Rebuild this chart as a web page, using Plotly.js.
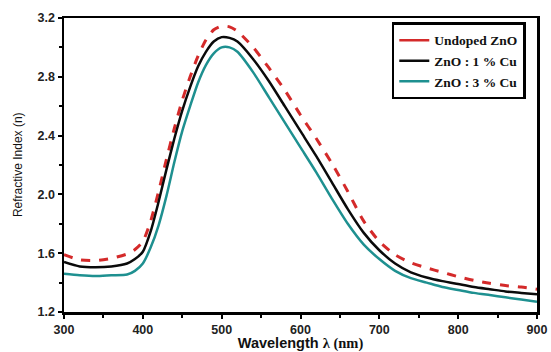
<!DOCTYPE html>
<html><head><meta charset="utf-8">
<script src="https://cdn.plot.ly/plotly-3.0.1.min.js"></script>
<style>html,body{margin:0;padding:0;background:#fff;}#c{width:551px;height:352px;}</style>
</head><body><div id="c"></div>
<script>
const wavelength = [300,320,340,360,380,390,400,410,420,430,440,450,460,470,480,490,500,510,520,540,560,580,600,620,640,660,680,700,720,740,760,780,800,820,840,860,880,900];
const undoped = [1.59,1.555,1.55,1.565,1.595,1.625,1.68,1.82,2.02,2.24,2.45,2.64,2.80,2.94,3.05,3.12,3.145,3.14,3.11,3.00,2.86,2.71,2.54,2.38,2.21,2.02,1.82,1.68,1.59,1.535,1.50,1.47,1.44,1.415,1.395,1.38,1.37,1.355];
const cu1 = [1.54,1.51,1.505,1.51,1.53,1.56,1.61,1.75,1.95,2.17,2.38,2.57,2.73,2.87,2.97,3.04,3.07,3.065,3.04,2.92,2.77,2.60,2.43,2.26,2.08,1.90,1.74,1.62,1.53,1.47,1.435,1.41,1.39,1.37,1.355,1.34,1.33,1.32];
const cu3 = [1.46,1.45,1.445,1.45,1.455,1.48,1.53,1.64,1.79,1.99,2.22,2.43,2.60,2.76,2.88,2.96,3.00,3.00,2.97,2.83,2.66,2.49,2.32,2.15,1.97,1.80,1.66,1.56,1.48,1.43,1.40,1.37,1.35,1.33,1.315,1.30,1.285,1.27];
const names = ['Undoped ZnO','ZnO : 1 % Cu','ZnO : 3 % Cu'];
const colors = ['#d42a2a','#0a0a0a','#1e9090'];
const series = [undoped, cu1, cu3];

const traces = [];
series.forEach((s,i)=>{
  traces.push({x: wavelength, y: s, mode:'lines', line:{color:colors[i], width: i===0?3:2.5, dash: i===0?'dash':'solid', shape:'spline', smoothing:0.7}, showlegend:false, hoverinfo:'skip'});
});
names.forEach((n,i)=>{
  traces.push({x:[null], y:[null], mode:'lines', name:n, line:{color:colors[i], width:2.5}, showlegend:true});
});

const layout = {
  width:551, height:352,
  margin:{l:64, r:14, t:18, b:40},
  paper_bgcolor:'#fff', plot_bgcolor:'#fff',
  showlegend:true,
  legend:{x:0.693, y:0.985, xanchor:'left', yanchor:'top', bgcolor:'#fff', bordercolor:'#000', borderwidth:2.5,
    font:{family:'Liberation Serif, Times New Roman, serif', size:13.5, color:'#111', weight:'bold'},
    tracegroupgap:0, itemwidth:30},
  xaxis:{range:[300,900], tickvals:[300,400,500,600,700,800,900], ticks:'outside', ticklen:4, tickwidth:2, tickcolor:'#000',
    minor:{dtick:50, ticks:'outside', ticklen:3, tickwidth:2, tickcolor:'#000'},
    showline:true, linecolor:'#000', linewidth:2.5, mirror:true, showgrid:false, zeroline:false,
    tickfont:{family:'Liberation Sans, Arial, sans-serif', size:12.5, color:'#222', weight:'bold'},
    title:{text:'Wavelength <span style="font-family:Liberation Serif, Times New Roman, serif">λ (nm)</span>', standoff:2,
      font:{family:'Liberation Sans, Arial, sans-serif', size:14.5, color:'#111', weight:'bold'}}},
  yaxis:{range:[1.2,3.2], tickvals:[1.2,1.6,2.0,2.4,2.8,3.2], ticktext:['1.2','1.6','2.0','2.4','2.8','3.2'], ticks:'outside', ticklen:4, tickwidth:2, tickcolor:'#000',
    minor:{dtick:0.2, ticks:'outside', ticklen:3, tickwidth:2, tickcolor:'#000'},
    showline:true, linecolor:'#000', linewidth:2.5, mirror:true, showgrid:false, zeroline:false,
    tickfont:{family:'Liberation Sans, Arial, sans-serif', size:12.5, color:'#222', weight:'bold'}},
  annotations:[{text:'Refractive Index (n)', xref:'paper', yref:'paper', x:-0.097, y:0.5, xanchor:'center', yanchor:'middle', textangle:-90, showarrow:false,
    font:{family:'Liberation Sans, Arial, sans-serif', size:12, color:'#111'}}]
};
Plotly.newPlot('c', traces, layout, {displayModeBar:false, staticPlot:true});
</script></body></html>
